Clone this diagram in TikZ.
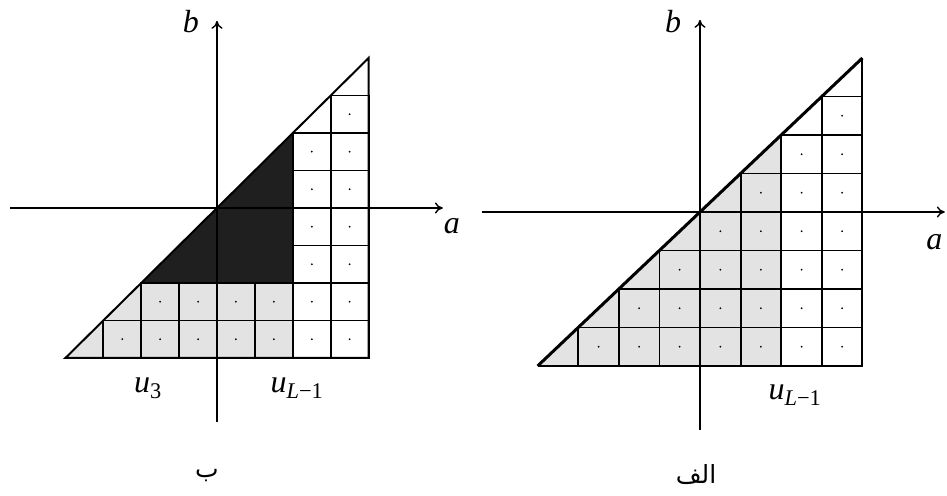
\documentclass[tikz,border=0pt]{standalone}
\usepackage{fontspec}
\setmainfont{Liberation Serif}
\newfontfamily\arabicfont[Script=Arabic]{DejaVu Sans}
\TeXXeTstate=1
\usetikzlibrary{arrows.meta}
\begin{document}
\begin{tikzpicture}[
  cellbox/.style={draw=black, line width=1.8pt},
  axisline/.style={line width=1.4pt, -{To[length=8pt,width=11pt]}},
  outline/.style={draw=black, line width=2pt, line join=miter},
  lbl/.style={font=\fontsize{32}{32}\selectfont\itshape, inner sep=0pt},
  arlbl/.style={font=\fontsize{25}{28}\selectfont\arabicfont, inner sep=0pt},
  lightfill/.style={fill=black!11},
  darkfill/.style={fill=black!88}
]
\useasboundingbox (0pt,0pt) rectangle (947pt,495pt);

% ---------------- left diagram (b) ----------------
\begin{scope}[shift={(217pt,287pt)}, x=37.9pt, y=37.5pt]
  \fill[lightfill] (-4,-4) -- (2,-4) -- (2,-2) -- (-2,-2) -- cycle;
  \fill[darkfill] (-2,-2) -- (2,-2) -- (2,2) -- cycle;
  \foreach \j in {0,...,6}{
    \pgfmathtruncatemacro{\first}{\j+1}
    \foreach \i in {\first,...,7}{
      \pgfmathtruncatemacro{\isdark}{((\j>=2)&&(\i<=5))?1:0}
      \ifnum\isdark=0
        \draw[cellbox] (\i-4,\j-4) rectangle ++(1,1);
        \fill (\i-3.5,\j-3.5) circle (1pt);
      \fi
    }
  }
  \draw[outline] (-4,-4) -- (4,-4) -- (4,4) -- cycle;
  \coordinate (L-west) at (-5.46,0);
  \coordinate (L-east) at (5.96,0);
  \coordinate (L-south) at (0,-5.71);
  \coordinate (L-north) at (0,4.99);
  \draw[axisline] (L-west) -- (L-east);
  \draw[axisline] (L-south) -- (L-north);
  \node[lbl] (L-b) at (-0.69,4.96) {b};
  \node[lbl] (L-a) at (6.2,-0.48) {a};
  \node[lbl] (L-u3) at (-1.82,-4.8) {u\textsubscript{\upshape 3}};
  \node[lbl] (L-uL) at (2.11,-4.8) {u\textsubscript{L\upshape −1}};
\end{scope}

% ---------------- right diagram (alef) ----------------
\begin{scope}[shift={(700pt,283pt)}, x=40.6pt, y=38.5pt]
  \fill[lightfill] (-4,-4) -- (2,-4) -- (2,2) -- cycle;
  \foreach \j in {0,...,6}{
    \pgfmathtruncatemacro{\first}{\j+1}
    \foreach \i in {\first,...,7}{
      \draw[cellbox] (\i-4,\j-4) rectangle ++(1,1);
      \fill (\i-3.5,\j-3.5) circle (1pt);
    }
  }
  \draw[outline] (-4,-4) -- (4,-4) -- (4,4);
  \draw[outline, line width=3pt] (-4,-4) -- (4,4);
  \coordinate (R-west) at (-5.37,0);
  \coordinate (R-east) at (6.03,0);
  \coordinate (R-south) at (0,-5.66);
  \coordinate (R-north) at (0,4.99);
  \draw[axisline] (R-west) -- (R-east);
  \draw[axisline] (R-south) -- (R-north);
  \node[lbl] (R-b) at (-0.66,4.94) {b};
  \node[lbl] (R-a) at (5.77,-0.78) {a};
  \node[lbl] (R-uL) at (2.34,-4.75) {u\textsubscript{L\upshape −1}};
\end{scope}

\node[arlbl] (cap-b) at (207pt,19pt) {\beginR ب\endR};
\node[arlbl] (cap-alef) at (696pt,20pt) {\beginR الف\endR};
\end{tikzpicture}
\end{document}
